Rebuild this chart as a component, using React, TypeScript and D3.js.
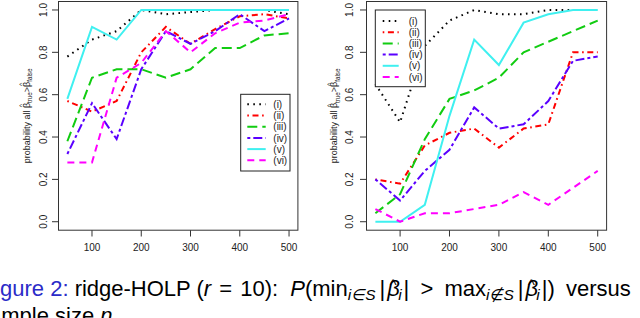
import React from 'react';
import * as d3 from 'd3';

// sample size n on the x axis
const sampleSizes = [50, 100, 150, 200, 250, 300, 350, 400, 450, 500];
const xTicks = [100, 200, 300, 400, 500];
const yTicks = [0, 0.2, 0.4, 0.6, 0.8, 1.0];

const seriesNames = ['(i)', '(ii)', '(iii)', '(iv)', '(v)', '(vi)'];
const seriesColors = ['#000000', '#ff0000', '#11cc11', '#5a00ff', '#3ff0f0', '#ff00ff'];
const seriesDashes = ['1.6 4.4', '1.6 3.6 6 3.6', '10 5', '3 3 9 3', '', '7 5'];

// left panel
const leftI = [0.78, 0.86, 0.9, 1.0, 0.98, 0.99, 1.0, 1.0, 1.0, 0.98];
const leftII = [0.57, 0.52, 0.57, 0.8, 0.92, 0.84, 0.91, 0.97, 0.98, 0.96];
const leftIII = [0.38, 0.68, 0.72, 0.72, 0.68, 0.72, 0.82, 0.82, 0.88, 0.89];
const leftIV = [0.32, 0.56, 0.39, 0.72, 0.9, 0.84, 0.9, 0.98, 0.9, 0.96];
const leftV = [0.58, 0.92, 0.86, 1.0, 1.0, 1.0, 1.0, 1.0, 1.0, 1.0];
const leftVI = [0.28, 0.28, 0.68, 0.75, 0.9, 0.8, 0.89, 0.94, 0.95, 0.98];

// right panel
const rightI = [0.65, 0.47, 0.83, 0.95, 1.0, 0.98, 0.98, 1.0, 1.0, 1.0];
const rightII = [0.2, 0.18, 0.36, 0.42, 0.44, 0.35, 0.44, 0.46, 0.8, 0.8];
const rightIII = [0.04, 0.13, 0.39, 0.58, 0.62, 0.68, 0.8, 0.85, 0.9, 0.95];
const rightIV = [0.2, 0.1, 0.24, 0.34, 0.54, 0.44, 0.46, 0.57, 0.76, 0.78];
const rightV = [0.0, 0.0, 0.08, 0.5, 0.86, 0.74, 0.94, 0.98, 1.0, 1.0];
const rightVI = [0.06, 0.0, 0.04, 0.04, 0.06, 0.08, 0.14, 0.08, 0.16, 0.24];

const font = 'Liberation Sans, Arial, Helvetica, sans-serif';

const YLabel = ({ x, y }: { x: number; y: number }) => (
  <text transform={`translate(${x},${y}) rotate(-90)`} textAnchor="middle" fontSize={9} fill="#222">
    <tspan>probability all β</tspan>
    <tspan fontSize={7} dx={-4.2} dy={-5.5}>^</tspan>
    <tspan fontSize={6.3} dx={0.8} dy={8}>true</tspan>
    <tspan dy={-2.5}>&gt;β</tspan>
    <tspan fontSize={7} dx={-4.2} dy={-5.5}>^</tspan>
    <tspan fontSize={6.3} dx={0.8} dy={8}>false</tspan>
  </text>
);

type Legend = { bx: number; by: number; bw: number; bh: number; row0: number; lx0: number; lx1: number; tx: number };

const Panel = ({ values, left, right, tickLabelX, labelX, legend }: {
  values: number[][]; left: number; right: number; tickLabelX: number; labelX: number; legend: Legend;
}) => {
  const x = d3.scaleLinear().domain([32, 518]).range([left, right]);
  const y = d3.scaleLinear().domain([-0.04, 1.04]).range([230.2, 1.5]);
  const line = d3.line<number>().x((_, i) => x(sampleSizes[i])).y(d => y(d));
  const rowGap = 11.2;
  return (
    <g fontFamily={font}>
      {values.map((vals, k) => (
        <path key={k} d={line(vals) ?? ''} fill="none" stroke={seriesColors[k]} strokeWidth={2}
          strokeDasharray={seriesDashes[k] || undefined} />
      ))}
      <rect x={left} y={1.5} width={right - left} height={228.7} fill="none" stroke="#333" strokeWidth={1} />
      {xTicks.map(t => (
        <g key={t}>
          <line x1={x(t)} x2={x(t)} y1={230.2} y2={236.5} stroke="#333" />
          <text x={x(t)} y={250.7} textAnchor="middle" fontSize={10} fill="#222">{t}</text>
        </g>
      ))}
      {yTicks.map(t => (
        <g key={t}>
          <line x1={left - 6.5} x2={left} y1={y(t)} y2={y(t)} stroke="#333" />
          <text transform={`translate(${tickLabelX},${y(t)}) rotate(-90)`} textAnchor="middle" fontSize={10} fill="#222">
            {t.toFixed(1)}
          </text>
        </g>
      ))}
      <YLabel x={labelX} y={(y(-0.04) + y(1.04)) / 2} />
      <rect x={legend.bx} y={legend.by} width={legend.bw} height={legend.bh} fill="#fff" stroke="#222" strokeWidth={1} />
      {seriesNames.map((name, k) => {
        const ry = legend.row0 + k * rowGap;
        return (
          <g key={name}>
            <line x1={legend.lx0} x2={legend.lx1} y1={ry} y2={ry} stroke={seriesColors[k]} strokeWidth={2}
              strokeDasharray={seriesDashes[k] || undefined} />
            <text x={legend.tx} y={ry + 3.6} fontSize={10} fill="#222">{name}</text>
          </g>
        );
      })}
    </g>
  );
};

const Caption = () => {
  const fs = 22;
  const sub = 15.5;
  const hat = 14.5;
  return (
    <g fontFamily={font} fontSize={fs} fill="#000">
      <text x={-18.3} y={296}>
        <tspan fill="#2b2bc8">Figure 2:</tspan>
        <tspan> ridge-HOLP (</tspan>
        <tspan fontStyle="italic">r</tspan>
        <tspan dx={2}> = </tspan>
        <tspan dx={2}>10):</tspan>
        <tspan dx={6} fontStyle="italic"> P</tspan>
        <tspan>(min</tspan>
        <tspan fontSize={sub} fontStyle="italic" dy={4}>i∈S</tspan>
        <tspan dx={4} dy={-4}>|</tspan>
        <tspan dx={2} fontStyle="italic">β</tspan>
        <tspan fontSize={hat} dx={-10} dy={-6}>^</tspan>
        <tspan fontSize={sub} fontStyle="italic" dx={1.5} dy={10}>i</tspan>
        <tspan dx={2} dy={-4}>|</tspan>
        <tspan dx={5}> &gt; </tspan>
        <tspan dx={5}>max</tspan>
        <tspan fontSize={sub} fontStyle="italic" dy={4}>i∉S</tspan>
        <tspan dx={4} dy={-4}>|</tspan>
        <tspan dx={2} fontStyle="italic">β</tspan>
        <tspan fontSize={hat} dx={-10} dy={-6}>^</tspan>
        <tspan fontSize={sub} fontStyle="italic" dx={1.5} dy={10}>i</tspan>
        <tspan dx={2} dy={-4}>|)</tspan>
        <tspan dx={5}> versus</tspan>
      </text>
      <text x={-22} y={323}>
        <tspan>sample size </tspan>
        <tspan fontStyle="italic">n</tspan>
        <tspan>.</tspan>
      </text>
    </g>
  );
};

export default function App() {
  const leftValues = [leftI, leftII, leftIII, leftIV, leftV, leftVI];
  const rightValues = [rightI, rightII, rightIII, rightIV, rightV, rightVI];
  return (
    <svg width={640} height={318} style={{ position: 'absolute', left: 0, top: 0, background: '#fff' }}>
      <rect width={640} height={318} fill="#fff" />
      <Panel values={leftValues} left={58.5} right={297.9} tickLabelX={46.5} labelX={29.5}
        legend={{ bx: 240.7, by: 94.3, bw: 49.3, bh: 76.7, row0: 104.3, lx0: 247.3, lx1: 265.7, tx: 273.3 }} />
      <Panel values={rightValues} left={366.5} right={606.6} tickLabelX={353} labelX={337}
        legend={{ bx: 375.3, by: 10, bw: 50, bh: 76.7, row0: 21, lx0: 382.7, lx1: 398.7, tx: 408.7 }} />
      <Caption />
    </svg>
  );
}
